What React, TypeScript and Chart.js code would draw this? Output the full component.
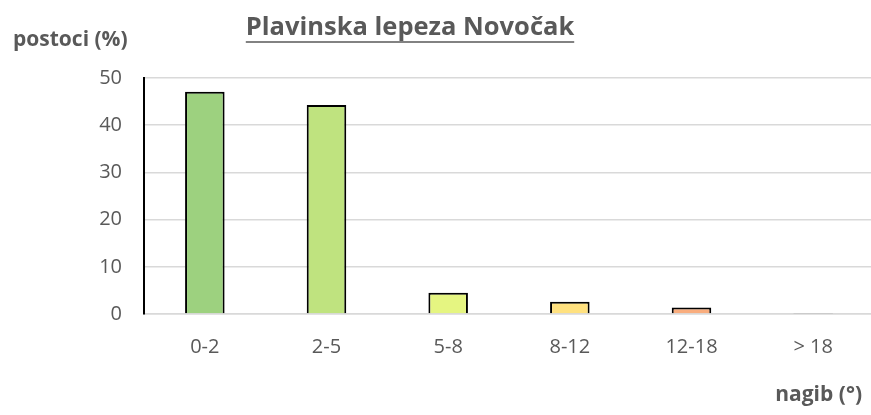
import React, { useEffect, useRef } from "react";
import { Chart, registerables } from "chart.js";

Chart.register(...registerables);

const categories = ["0-2", "2-5", "5-8", "8-12", "12-18", "> 18"];
const values = [47.1, 44.3, 4.5, 2.6, 1.4, 0.2];
const barColors = ["#9DD17F", "#BFE37F", "#E5F581", "#FFE17F", "#F9AD7E", "#F8796B"];
const yTicks = [0, 10, 20, 30, 40, 50];
const titleText = "Plavinska lepeza Novočak";
const yTitle = "postoci (%)";
const xTitle = "nagib (°)";

const FONT = "'Open Sans', sans-serif";

const textPlugin = {
  id: "texts",
  afterDraw(chart: any) {
    const ctx = chart.ctx;
    ctx.save();
    ctx.fillStyle = "#595959";
    ctx.textBaseline = "alphabetic";
    // title
    ctx.font = `bold 25.5px ${FONT}`;
    ctx.textAlign = "center";
    const tx = 410;
    const ty = 35;
    ctx.fillText(titleText, tx, ty);
    const w = ctx.measureText(titleText).width;
    ctx.strokeStyle = "#595959";
    ctx.lineWidth = 1.5;
    ctx.beginPath();
    ctx.moveTo(tx - w / 2, ty + 7);
    ctx.lineTo(tx + w / 2, ty + 7);
    ctx.stroke();
    // y title
    ctx.font = `bold 21px ${FONT}`;
    ctx.textAlign = "left";
    ctx.fillText(yTitle, 13, 46);
    // x title
    ctx.textAlign = "right";
    ctx.fillText(xTitle, 862, 401);
    ctx.restore();
  },
};

export default function App() {
  const ref = useRef<HTMLCanvasElement>(null);
  useEffect(() => {
    if (!ref.current) return;
    const chart = new Chart(ref.current, {
      type: "bar",
      data: {
        labels: categories,
        datasets: [
          {
            data: values,
            backgroundColor: barColors,
            borderColor: "#000000",
            borderWidth: 2,
            categoryPercentage: 1,
            barPercentage: 0.325,
            minBarLength: 1,
          },
        ],
      },
      options: {
        responsive: false,
        animation: false,
        maintainAspectRatio: false,
        layout: { padding: { left: 0, right: 0, top: 78, bottom: 0 } },
        plugins: {
          legend: { display: false },
          title: { display: false },
          tooltip: { enabled: false },
        },
        scales: {
          x: {
            afterFit(scale: any) {
              scale.height = 101;
            },
            grid: { display: false, drawTicks: false },
            border: { display: true, color: "#D9D9D9", width: 1.5 },
            ticks: {
              color: "#595959",
              font: { family: FONT, size: 20 },
              padding: 21,
            },
          },
          y: {
            min: 0,
            max: 50,
            afterFit(scale: any) {
              scale.width = 144;
            },
            afterBuildTicks(scale: any) {
              scale.ticks = yTicks.map((v) => ({ value: v }));
            },
            grid: { color: "#D9D9D9", lineWidth: 1.5, drawTicks: false },
            border: { display: true, color: "#000000", width: 2 },
            ticks: {
              color: "#595959",
              font: { family: FONT, size: 20 },
              padding: 22,
            },
          },
        },
      },
      plugins: [textPlugin],
    });
    return () => chart.destroy();
  }, []);
  return (
    <div
      style={{
        position: "fixed",
        left: 0,
        top: 0,
        width: 871,
        height: 415,
        overflow: "hidden",
        background: "#fff",
      }}
    >
      <canvas ref={ref} width={874} height={415} style={{ width: 874, height: 415, display: "block" }} />
    </div>
  );
}
